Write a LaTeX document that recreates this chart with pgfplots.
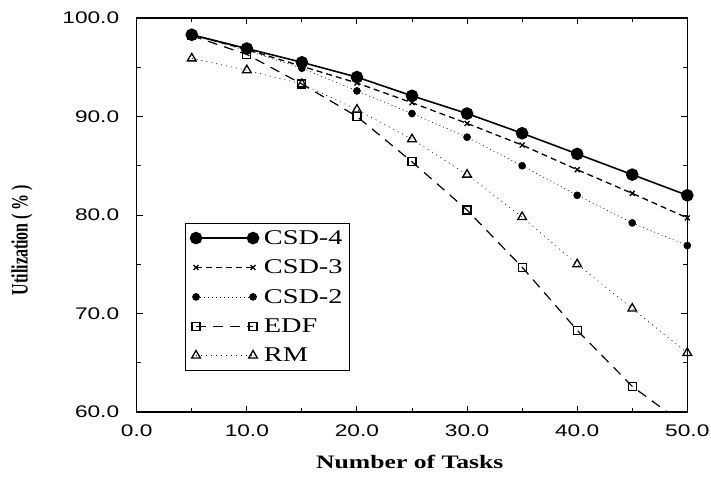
\documentclass[border=0pt]{standalone}
\usepackage{fontspec}
\setmainfont{Liberation Serif}
\newfontfamily\ticksans[FakeStretch=1.35]{Liberation Sans}
\newfontfamily\wideserif[FakeStretch=1.35]{Liberation Serif}
\newfontfamily\narrowserif[FakeStretch=0.68]{Liberation Serif}
\usepackage{pgfplots}
\pgfplotsset{compat=1.18}
\begin{document}
\begin{tikzpicture}
\path[use as bounding box] (-136.7pt,-68pt) rectangle (574.3pt,412pt);
\begin{axis}[
  at={(0pt,0pt)}, anchor=south west,
  scale only axis, width=550.6pt, height=394pt,
  xmin=0, xmax=50, ymin=60, ymax=100,
  xtick={0,10,...,50}, ytick={60,70,...,100},
  minor xtick={5,15,...,45}, minor ytick={65,75,...,95},
  tick align=inside, ticks=both,
  major tick length=6pt, minor tick length=4pt,
  axis line style={line width=1.3pt},
  every tick/.style={line width=1pt, black},
  /pgf/number format/assume math mode=true,
  /pgf/number format/.cd, fixed, fixed zerofill, precision=1, /pgfplots/.cd,
  tick label style={font=\ticksans\fontsize{16.8}{17}\selectfont},
  xticklabel style={yshift=-9pt},
  yticklabel style={xshift=-14pt},
  xlabel={\wideserif\bfseries Number of Tasks},
  xlabel style={font=\fontsize{19}{20}\selectfont, at={(axis description cs:0.496,-0.127)}, anchor=center},
  clip=true,
  legend style={at={(axis cs:4.39,79.2)}, anchor=north west,
    font=\wideserif\fontsize{21}{21}\selectfont, draw=black, line width=1pt,
    inner xsep=5pt, inner ysep=5pt, row sep=10pt,
    cells={anchor=west}},
  legend cell align=left,
  legend image code/.code={\draw[mark repeat=1,#1] plot coordinates {(0pt,0pt) (57pt,0pt)}; \path (65pt,0pt);},
]
\addplot[black, line width=1.6pt, mark=*, mark size=5.5pt, mark options={solid}]
  coordinates {(5,98.3)(10,96.9)(15,95.5)(20,94.0)(25,92.1)(30,90.3)(35,88.3)(40,86.2)(45,84.1)(50,82.0)};
\addlegendentry{CSD-4}
\addplot[black, line width=1.3pt, dash pattern=on 6pt off 4pt, mark=x, mark size=3.5pt, mark options={solid, line width=1.3pt}]
  coordinates {(5,98.3)(10,96.8)(15,95.1)(20,93.4)(25,91.4)(30,89.3)(35,87.1)(40,84.6)(45,82.2)(50,79.7)};
\addlegendentry{CSD-3}
\addplot[black, line width=0.6pt, dash pattern=on 1pt off 3pt, mark=*, mark size=3.5pt, mark options={solid}]
  coordinates {(5,98.3)(10,96.7)(15,94.9)(20,92.6)(25,90.3)(30,87.9)(35,85.0)(40,82.0)(45,79.2)(50,76.9)};
\addlegendentry{CSD-2}
\addplot[black, line width=1.2pt, dash pattern=on 10pt off 7pt, mark=square, mark size=4pt, mark options={solid, line width=1.2pt}]
  coordinates {(5,98.2)(10,96.3)(15,93.3)(20,90.0)(25,85.4)(30,80.5)(35,74.7)(40,68.3)(45,62.6)(50,58.5)};
\addlegendentry{EDF}
\addplot[black, line width=0.6pt, dash pattern=on 1pt off 4pt, mark=triangle, mark size=5pt, mark options={solid, line width=1.3pt}]
  coordinates {(5,95.9)(10,94.7)(15,93.3)(20,90.7)(25,87.7)(30,84.1)(35,79.8)(40,75.0)(45,70.5)(50,66.0)};
\addlegendentry{RM}
\end{axis}
\node[rotate=90, anchor=center, inner sep=0pt, font=\narrowserif\bfseries\fontsize{23.5}{24}\selectfont] at (-114.7pt,172pt) {Utilization (\,\%\,)};
\end{tikzpicture}
\end{document}
